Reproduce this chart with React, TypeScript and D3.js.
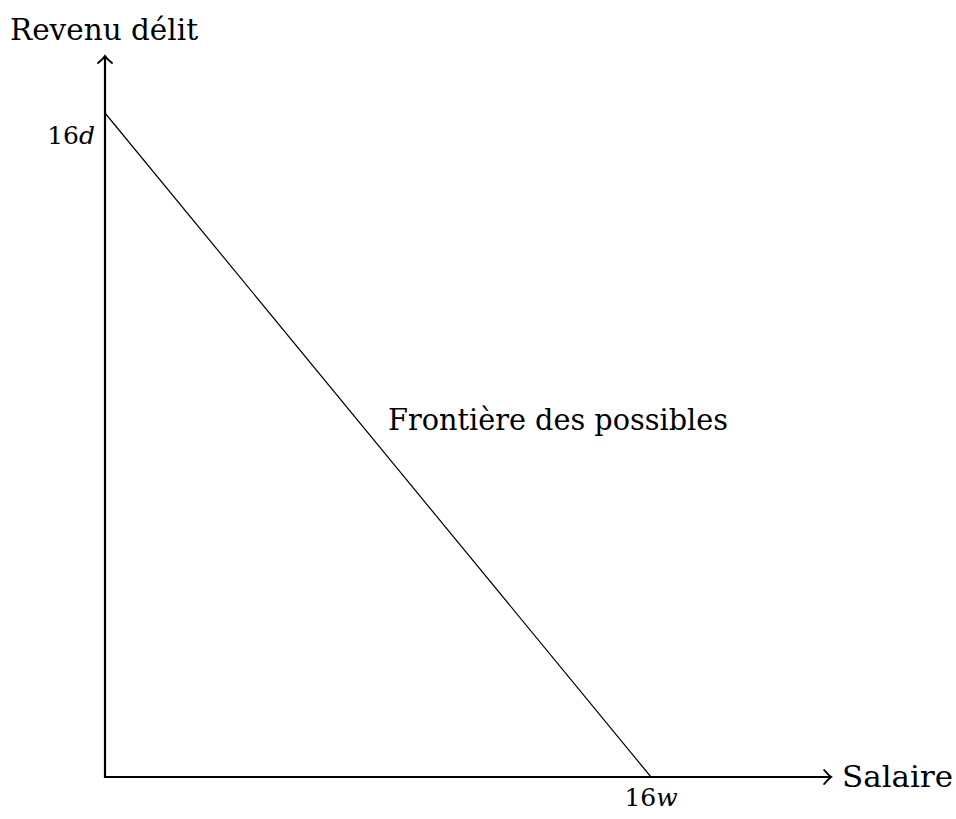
import React from "react";
import * as d3 from "d3";

const W = 956;
const H = 819;
const xDomain = [0, 16];
const yDomain = [0, 16];
const frontier = [
  { x: 0, y: 16 },
  { x: 16, y: 0 },
];
const xAxisMax = 21.25;
const yAxisMax = 17.35;
const xTickLabel = "16";
const xTickVar = "w";
const yTickLabel = "16";
const yTickVar = "d";
const xAxisTitle = "Salaire";
const yAxisTitle = "Revenu délit";
const curveLabel = "Frontière des possibles";

export default function App() {
  const x = d3.scaleLinear().domain(xDomain).range([105, 651]);
  const y = d3.scaleLinear().domain(yDomain).range([777, 113]);
  const line = d3
    .line<{ x: number; y: number }>()
    .x((d) => x(d.x))
    .y((d) => y(d.y));
  const font = "'DejaVu Serif', serif";
  const x0 = x(0);
  const y0 = y(0);
  const xEnd = x(xAxisMax);
  const yEnd = y(yAxisMax);
  return (
    <svg
      width={W}
      height={H}
      style={{ position: "absolute", left: 0, top: 0, background: "#fff" }}
    >
      <path d={line(frontier) || ""} stroke="#000" strokeWidth={1.2} fill="none" />
      <line x1={x0} y1={y0} x2={xEnd} y2={y0} stroke="#000" strokeWidth={2.2} />
      <line x1={x0} y1={y0 + 1.1} x2={x0} y2={yEnd} stroke="#000" strokeWidth={2.2} />
      <path
        d={`M${xEnd - 6},${y0 - 7} Q${xEnd - 2},${y0 - 2} ${xEnd + 1},${y0} Q${xEnd - 2},${y0 + 2} ${xEnd - 6},${y0 + 7}`}
        stroke="#000"
        strokeWidth={2}
        fill="none"
        strokeLinecap="round"
      />
      <path
        d={`M${x0 - 7},${yEnd + 6} Q${x0 - 2},${yEnd + 2} ${x0},${yEnd - 1} Q${x0 + 2},${yEnd + 2} ${x0 + 7},${yEnd + 6}`}
        stroke="#000"
        strokeWidth={2}
        fill="none"
        strokeLinecap="round"
      />
      <text x={10} y={40} fontFamily={font} fontSize={29.5} fill="#000" textLength={188} lengthAdjust="spacingAndGlyphs">
        {yAxisTitle}
      </text>
      <text x={842} y={787} fontFamily={font} fontSize={29.5} fill="#000" textLength={111} lengthAdjust="spacingAndGlyphs">
        {xAxisTitle}
      </text>
      <text x={388} y={430} fontFamily={font} fontSize={29.5} fill="#000" textLength={340} lengthAdjust="spacingAndGlyphs">
        {curveLabel}
      </text>
      <text x={95} y={y(16) + 31} fontFamily={font} fontSize={25} fill="#000" textAnchor="end">
        {yTickLabel}
        <tspan fontStyle="italic">{yTickVar}</tspan>
      </text>
      <text x={x(16)} y={y0 + 29} fontFamily={font} fontSize={25} fill="#000" textAnchor="middle">
        {xTickLabel}
        <tspan fontStyle="italic">{xTickVar}</tspan>
      </text>
    </svg>
  );
}
